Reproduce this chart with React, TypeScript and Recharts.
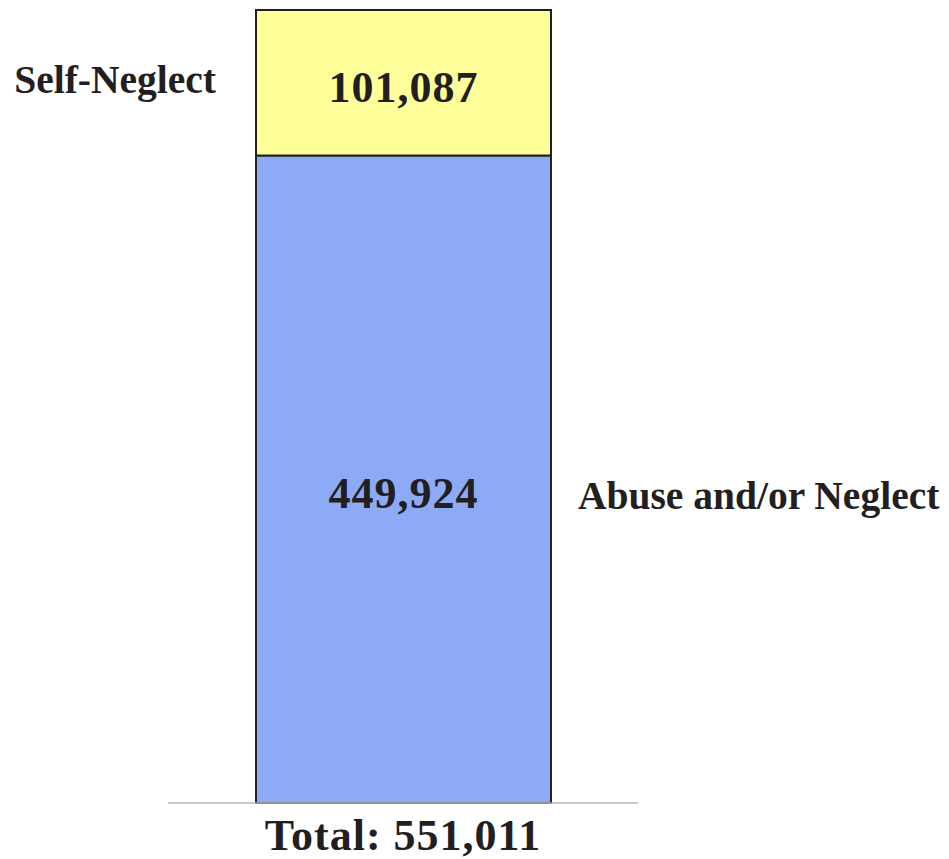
import React from 'react';
import { BarChart, Bar, XAxis, YAxis, LabelList } from 'recharts';

const categories = ['Reports'];
const abuseValues = [449924];
const selfNeglectValues = [101087];
const seriesNames = ['Abuse and/or Neglect', 'Self-Neglect'];

const data = categories.map((name, i) => ({
  name,
  abuse: abuseValues[i],
  selfNeglect: selfNeglectValues[i],
}));

const total = abuseValues[0] + selfNeglectValues[0];
const fmt = (v: number) => v.toLocaleString('en-US');

const FONT = '"Liberation Serif", "Times New Roman", serif';
const INK = '#231f20';

const valueLabel = (dy: number) => (props: any) => {
  const { x, y, width, height, value } = props;
  return (
    <text
      x={x + width / 2}
      y={y + height / 2 + dy}
      textAnchor="middle"
      dominantBaseline="central"
      fontFamily={FONT}
      fontWeight="bold"
      fontSize={44}
      fill={INK}
      letterSpacing={1}
    >
      {fmt(Number(value))}
    </text>
  );
};

const sideLabel = (text: string, side: 'left' | 'right', gap: number, dy: number) => (props: any) => {
  const { x, y, width, height } = props;
  const tx = side === 'left' ? x - gap : x + width + gap;
  return (
    <text
      x={tx}
      y={y + height / 2 + dy}
      textAnchor={side === 'left' ? 'end' : 'start'}
      dominantBaseline="central"
      fontFamily={FONT}
      fontWeight="bold"
      fontSize={39.5}
      fill={INK}
    >
      {text}
    </text>
  );
};

const totalLabel = (props: any) => {
  const { viewBox } = props;
  return (
    <text
      x={viewBox.x + viewBox.width / 2}
      y={viewBox.y + viewBox.height - 9}
      textAnchor="middle"
      fontFamily={FONT}
      fontWeight="bold"
      fontSize={44}
      letterSpacing={1}
      fill={INK}
    >
      {`Total: ${fmt(total)}`}
    </text>
  );
};

export default function App() {
  return (
    <div style={{ position: 'absolute', left: 0, top: 0, background: '#fff' }}>
      <BarChart
        width={949}
        height={859}
        data={data}
        margin={{ top: 10, right: 311, left: 168, bottom: 0 }}
        barCategoryGap={0}
      >
        <XAxis
          dataKey="name"
          height={56}
          tick={false}
          tickLine={false}
          axisLine={{ stroke: '#b8b8b8', strokeWidth: 1.5 }}
          label={totalLabel}
        />
        <YAxis hide domain={[0, total]} />
        <Bar
          dataKey="abuse"
          stackId="a"
          fill="#8caaf5"
          stroke={INK}
          strokeWidth={2}
          barSize={295}
          isAnimationActive={false}
        >
          <LabelList dataKey="abuse" content={valueLabel(14)} />
          <LabelList dataKey="abuse" content={sideLabel(seriesNames[0], 'right', 27, 17)} />
        </Bar>
        <Bar
          dataKey="selfNeglect"
          stackId="a"
          fill="#ffff99"
          stroke={INK}
          strokeWidth={2}
          barSize={295}
          isAnimationActive={false}
        >
          <LabelList dataKey="selfNeglect" content={valueLabel(5)} />
          <LabelList dataKey="selfNeglect" content={sideLabel(seriesNames[1], 'left', 40, -3)} />
        </Bar>
      </BarChart>
    </div>
  );
}
